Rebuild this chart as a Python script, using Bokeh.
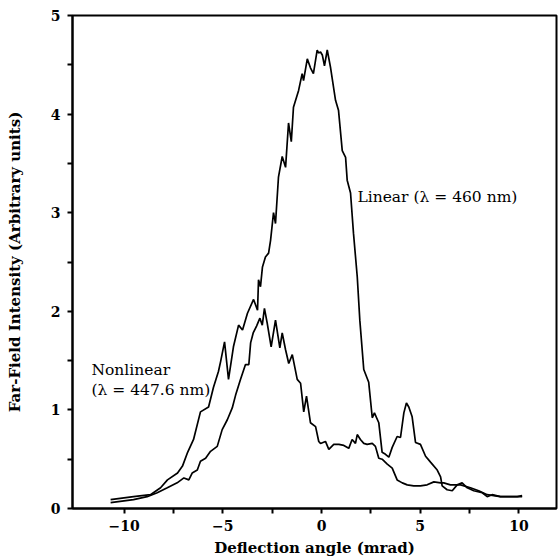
from bokeh.plotting import figure
from bokeh.models import FixedTicker, Range1d
from bokeh.core.properties import value
from bokeh.embed import file_html
from bokeh.resources import INLINE

# Linear (lambda = 460 nm) trace
lin_x = [-10.68, -9.52, -8.66, -8.15, -7.80, -7.29, -7.04, -6.78, -6.48, -6.13,
         -5.72, -5.47, -5.22, -5.11, -4.91, -4.71, -4.46, -4.20, -4.00, -3.75,
         -3.44, -3.24, -3.19, -3.09, -2.99, -2.84, -2.68, -2.58, -2.43, -2.33,
         -2.18, -1.99, -1.82, -1.67, -1.53, -1.42, -1.16, -0.98, -0.91, -0.72,
         -0.56, -0.41, -0.22, -0.15, -0.05, 0.04, 0.15, 0.29, 0.46, 0.71,
         0.86, 1.05, 1.22, 1.30, 1.47, 1.62, 1.81, 1.94, 2.14, 2.39,
         2.57, 2.68, 2.90, 3.07, 3.24, 3.41, 3.58, 3.83, 4.00, 4.17,
         4.30, 4.42, 4.59, 4.76, 5.01, 5.27, 5.52, 5.86, 6.03, 6.11,
         6.36, 6.62, 6.87, 7.12, 7.38, 7.71, 8.14, 8.39, 8.64, 9.06,
         9.40, 9.91, 10.16]
lin_y = [0.09, 0.12, 0.14, 0.21, 0.29, 0.36, 0.43, 0.57, 0.70, 0.98,
         1.03, 1.23, 1.39, 1.49, 1.69, 1.31, 1.64, 1.86, 1.81, 1.98,
         2.12, 2.01, 2.32, 2.25, 2.45, 2.55, 2.59, 2.72, 3.00, 2.89,
         3.36, 3.57, 3.46, 3.91, 3.72, 4.07, 4.24, 4.41, 4.34, 4.56,
         4.47, 4.41, 4.65, 4.62, 4.63, 4.60, 4.49, 4.65, 4.47, 4.14,
         4.04, 3.63, 3.56, 3.33, 3.20, 2.79, 2.35, 1.91, 1.41, 1.28,
         0.92, 0.97, 0.87, 0.57, 0.55, 0.52, 0.62, 0.73, 0.72, 0.97,
         1.07, 1.03, 0.93, 0.67, 0.65, 0.53, 0.47, 0.39, 0.32, 0.23,
         0.19, 0.18, 0.24, 0.26, 0.21, 0.18, 0.16, 0.12, 0.14, 0.12,
         0.12, 0.12, 0.13]

# Nonlinear (lambda = 447.6 nm) trace
nl_x = [-10.68, -9.52, -8.83, -8.32, -7.81, -7.31, -6.97, -6.72, -6.55, -6.29,
        -6.13, -5.87, -5.62, -5.28, -5.03, -4.77, -4.52, -4.35, -4.10, -3.85,
        -3.68, -3.59, -3.46, -3.29, -3.12, -3.00, -2.89, -2.75, -2.55, -2.33,
        -2.11, -1.99, -1.82, -1.66, -1.48, -1.23, -1.06, -0.90, -0.76, -0.56,
        -0.30, -0.14, -0.05, 0.20, 0.37, 0.62, 0.88, 1.13, 1.38, 1.55,
        1.72, 1.81, 1.97, 2.14, 2.31, 2.57, 2.73, 2.90, 3.07, 3.33,
        3.58, 3.83, 4.09, 4.34, 4.67, 5.01, 5.35, 5.69, 6.03, 6.19,
        6.53, 7.04, 7.54, 7.96, 8.39, 9.06, 9.57, 10.16]
nl_y = [0.06, 0.09, 0.12, 0.16, 0.21, 0.26, 0.31, 0.29, 0.36, 0.39,
        0.48, 0.51, 0.58, 0.63, 0.80, 0.90, 1.02, 1.15, 1.31, 1.46,
        1.46, 1.68, 1.78, 1.85, 1.93, 1.86, 2.03, 1.88, 1.64, 1.91,
        1.63, 1.78, 1.61, 1.47, 1.56, 1.31, 1.27, 0.98, 1.14, 0.87,
        0.83, 0.68, 0.66, 0.68, 0.60, 0.65, 0.65, 0.64, 0.61, 0.70,
        0.66, 0.75, 0.70, 0.66, 0.65, 0.66, 0.63, 0.51, 0.50, 0.45,
        0.41, 0.29, 0.26, 0.24, 0.23, 0.23, 0.24, 0.27, 0.26, 0.26,
        0.24, 0.24, 0.21, 0.18, 0.14, 0.12, 0.12, 0.12]

x_major = [-10, -5, 0, 5, 10]
x_minor = [-7.5, -2.5, 2.5, 7.5]
y_major = [0, 1, 2, 3, 4, 5]
y_minor = [0.5, 1.5, 2.5, 3.5, 4.5]

SERIF = "DejaVu Serif"

p = figure(width=559, height=559, output_backend="svg", toolbar_location=None,
           x_range=Range1d(-12.61, 11.90), y_range=Range1d(0, 5),
           min_border_left=72, min_border_right=3, min_border_top=15,
           min_border_bottom=50)
p.background_fill_color = "white"
p.border_fill_color = "white"
p.outline_line_color = "black"
p.outline_line_width = 2
p.xgrid.visible = False
p.ygrid.visible = False

p.line(lin_x, lin_y, line_color="black", line_width=1.7)
p.line(nl_x, nl_y, line_color="black", line_width=1.7)

for ax, maj, mnr in ((p.xaxis[0], x_major, x_minor), (p.yaxis[0], y_major, y_minor)):
    ax.ticker = FixedTicker(ticks=maj, minor_ticks=mnr)
    ax.axis_line_width = 2
    ax.major_tick_line_width = 2
    ax.minor_tick_line_width = 2
    ax.major_tick_in = 0
    ax.major_tick_out = 5
    ax.minor_tick_in = 0
    ax.minor_tick_out = 5
    ax.major_label_text_font = SERIF
    ax.major_label_text_font_style = "bold"
    ax.major_label_text_font_size = "14px"
    ax.major_label_text_color = "black"
    ax.axis_label_text_font = SERIF
    ax.axis_label_text_font_style = "bold"
    ax.axis_label_text_font_size = "15px"
    ax.axis_label_text_color = "black"

p.xaxis.axis_label = "Deflection angle (mrad)"
p.yaxis.axis_label = "Far-Field Intensity (Arbitrary units)"
p.xaxis.major_label_standoff = 6
p.yaxis.major_label_standoff = 7
p.xaxis.axis_label_standoff = 5
p.yaxis.axis_label_standoff = 24

p.text(x=[1.82], y=[3.16], text=["Linear (λ = 460 nm)"], text_font=value(SERIF),
       text_font_size="15.5px", text_baseline="alphabetic", text_align="left",
       text_color="black")
p.text(x=[-11.65, -11.65], y=[1.40, 1.20], text=["Nonlinear", "(λ = 447.6 nm)"],
       text_font=value(SERIF), text_font_size="15.5px", text_baseline="alphabetic",
       text_align="left", text_color="black")

open("out.html", "w").write(file_html(p, INLINE))
